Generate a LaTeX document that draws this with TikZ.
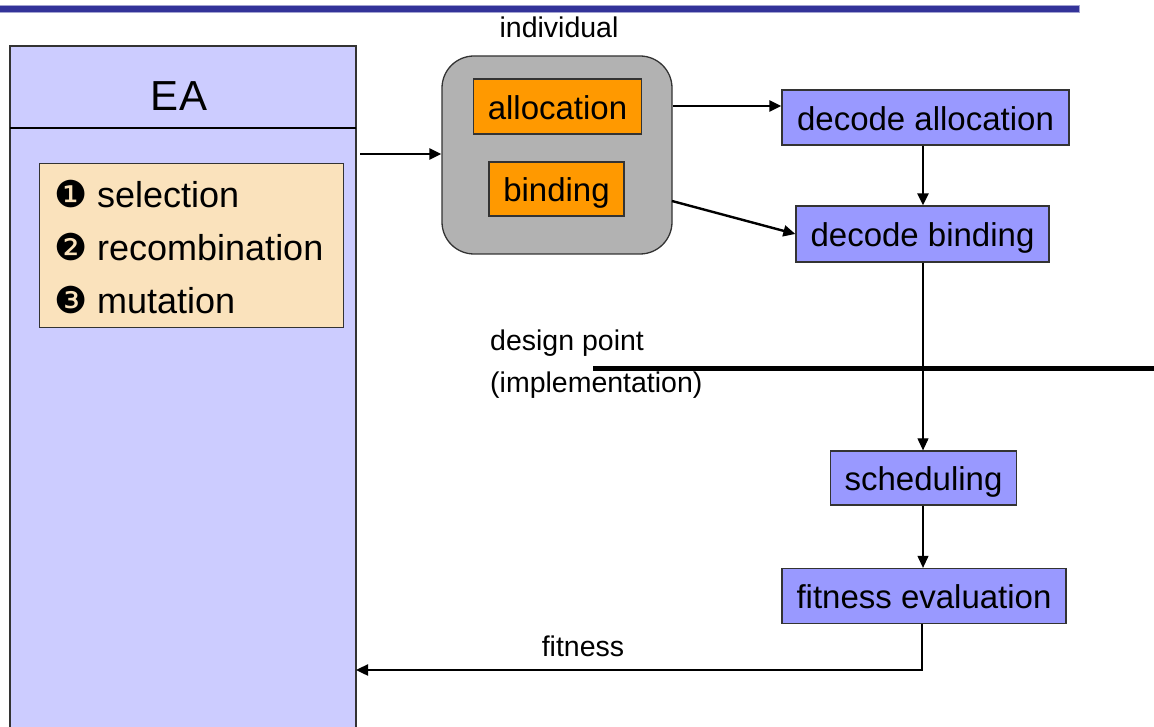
\documentclass[tikz,border=0pt]{standalone}
\usepackage{fontspec}
\setmainfont{Liberation Sans}
\newfontfamily\dingfont{DejaVu Sans}
\usetikzlibrary{arrows.meta}
\definecolor{topblue}{HTML}{333399}
\definecolor{lavender}{HTML}{CCCCFF}
\definecolor{boxblue}{HTML}{9999FF}
\definecolor{listbg}{HTML}{FAE2BC}
\definecolor{genorange}{HTML}{FF9900}
\definecolor{gengray}{HTML}{B2B2B2}
\definecolor{edge}{HTML}{333333}
\newcommand{\numdot}[1]{\makebox[43pt][l]{\dingfont\fontsize{37}{40}\selectfont #1}}
\tikzset{
  x=1pt, y=-1pt,
  big/.style={font=\fontsize{33}{38}\selectfont, text height=25.5pt, text depth=0pt},
  small/.style={font=\fontsize{28.5}{33}\selectfont},
  listitem/.style={anchor=west, font=\fontsize{36}{40}\selectfont, inner sep=0pt},
  stepbox/.style={draw=edge, line width=1.3pt, fill=boxblue, inner sep=0pt, big},
  genbox/.style={draw=edge, line width=1.3pt, fill=genorange, inner sep=0pt, big},
  flow/.style={line width=2.4pt, -{Triangle[length=12pt,width=11pt]}},
  thinflow/.style={line width=1.1pt, -{Triangle[length=12pt,width=11pt]}},
}
\begin{document}
\begin{tikzpicture}
\useasboundingbox (0,0) rectangle (1154,727);

% title rule
\fill[topblue!45] (0,5) rectangle (1080,13);
\fill[topblue] (0,6.5) rectangle (1079,12);

% EA column
\fill[lavender] (10,46) rectangle (356,740);
\draw[edge, line width=1.3pt] (10,740) -- (10,46) -- (356,46) -- (356,740);
\draw[black, line width=2pt] (10,128.5) -- (356,128.5);
\node[font=\fontsize{42}{46}\selectfont] (ea) at (179,96) {EA};
\coordinate (eain) at (356,670);
\coordinate (eaout) at (360,154);

% operators
\node[draw=edge, line width=1.3pt, fill=listbg, minimum width=304pt, minimum height=164pt, inner sep=0pt, anchor=north west] (ops) at (38.5,163) {};
\node[listitem] (sel) at (54,194) {\numdot{❶}selection};
\node[listitem] (rec) at (54,247) {\numdot{❷}recombination};
\node[listitem] (mut) at (54,300) {\numdot{❸}mutation};

% individual
\node[draw=edge, line width=1.3pt, fill=gengray, rounded corners=32pt, minimum width=230pt, minimum height=198pt, inner sep=0pt] (ind) at (557,155) {};
\node[small] (indlabel) at (559,27) {individual};
\node[genbox, minimum width=168pt, minimum height=55pt] (alloc) at (557.5,106.5) {allocation};
\node[genbox, minimum width=135pt, minimum height=54pt] (bind) at (556.5,189) {binding};

% decoding and evaluation chain
\node[stepbox, minimum width=287pt, minimum height=55pt] (dalloc) at (925.5,117.5) {decode allocation};
\node[stepbox, minimum width=253pt, minimum height=56pt] (dbind) at (922.5,234) {decode binding};
\node[stepbox, minimum width=186pt, minimum height=54pt] (sched) at (923.5,478) {scheduling};
\node[stepbox, minimum width=284pt, minimum height=55pt] (fit) at (924,596) {fitness evaluation};

% design point boundary
\coordinate (dpl) at (593,368);
\coordinate (dpr) at (1154,368);
\draw[line width=5pt] (dpl) -- (dpr);
\node[small, anchor=west, inner sep=0pt] (dp) at (490,343) {design point};
\node[small, anchor=west, inner sep=0pt] (impl) at (490,385) {(implementation)};

% connectors
\draw[flow] (eaout) -- (ind.west |- eaout);
\draw[flow] (ind.east |- 0,106) -- (dalloc.west |- 0,106);
\draw[flow] (672,201) -- (dbind.west);
\draw[flow] (dalloc.south -| 923,0) -- (dbind.north -| 923,0);
\draw[thinflow] (dbind.south -| 923,0) -- (sched.north -| 923,0);
\draw[thinflow] (sched.south -| 923,0) -- (fit.north -| 923,0);
\draw[flow] (fit.south -| 922,0) -- (922,670) -- (eain);
\node[small] (fitlabel) at (583,646) {fitness};
\end{tikzpicture}
\end{document}
